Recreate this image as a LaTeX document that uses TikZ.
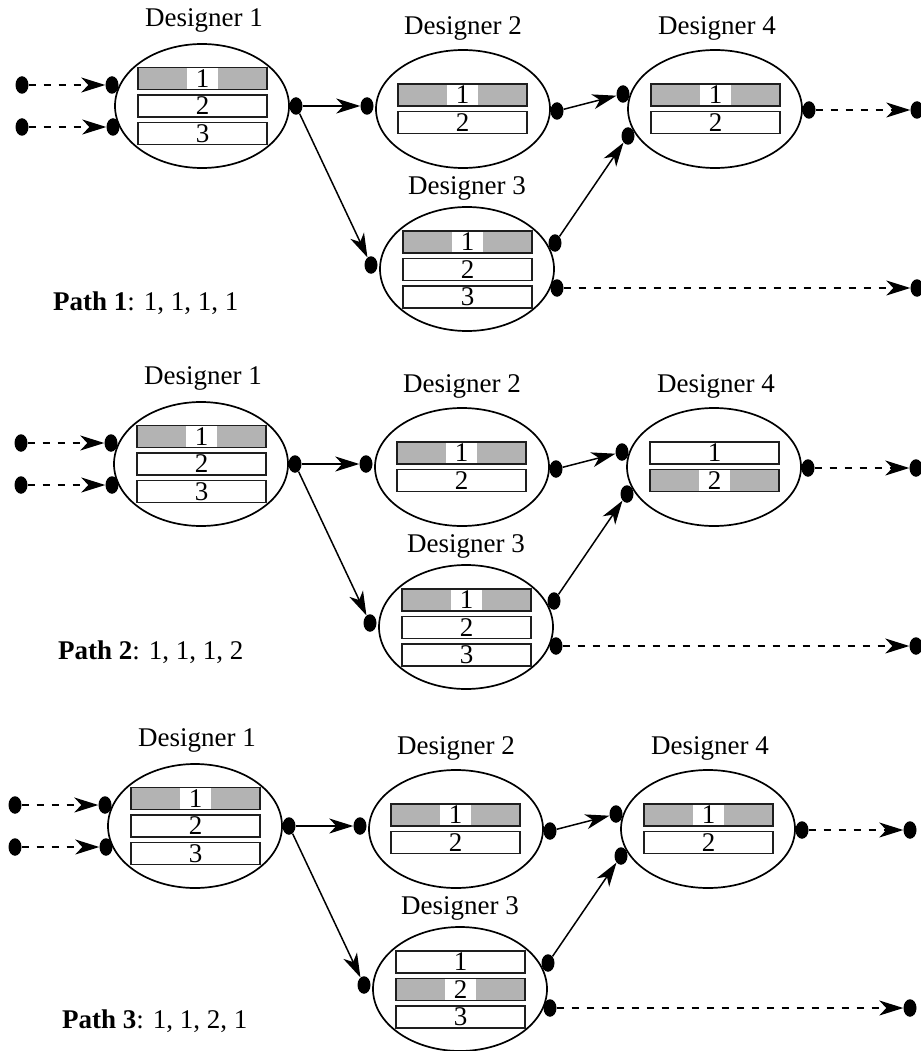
\documentclass[tikz,border=0pt]{standalone}
\usepackage{fontspec}
\setmainfont{Liberation Serif}
\usetikzlibrary{shapes.geometric,arrows.meta}
\definecolor{barfill}{RGB}{179,179,179}
\definecolor{barline}{RGB}{30,30,30}
\begin{document}
\begin{tikzpicture}[x=1pt,y=-1pt,
  every node/.style={font=\fontsize{27}{30}\selectfont},
  des/.style={ellipse, draw, line width=1.7pt, inner sep=0pt, minimum width=174pt, minimum height=118pt},
  dotn/.style={ellipse, fill=black, inner sep=0pt, minimum width=13pt, minimum height=17.5pt},
  plainbar/.style={rectangle, draw=barline, line width=1.8pt, fill=white, inner sep=0pt,
    minimum width=129pt, minimum height=22pt},
  hibar/.style={plainbar, fill=barfill,
    path picture={\fill[white] ([xshift=-15.5pt]path picture bounding box.north) rectangle ([xshift=15.5pt]path picture bounding box.south);}},
  arr/.style={line width=1.5pt, -{Stealth[length=24pt,width=15pt,inset=7pt]}},
  darr/.style={arr, dash pattern=on 7pt off 8pt}
]
\useasboundingbox (0,0) rectangle (920,1051);
\foreach \p/\dx/\dy/\a/\b/\c/\d/\lx/\ly in {1/0/0/1/1/1/1/53/310, 2/-1/358/1/1/1/2/59/301, 3/-7/720/1/1/2/1/69/308}{
\begin{scope}[shift={(\dx,\dy)}]
  % designers
  \node[des, minimum height=124pt] (e1-\p) at (202,106) {};
  \node[des] (e2-\p) at (463,109) {};
  \node[des, minimum height=124pt] (e3-\p) at (467,269) {};
  \node[des] (e4-\p) at (715,109) {};
  \node (t1-\p) at (204,20) {Designer 1};
  \node (t2-\p) at (463,28) {Designer 2};
  \node (t3-\p) at (467,188) {Designer 3};
  \node (t4-\p) at (717,28) {Designer 4};
  % bars
  \foreach \i in {1,2,3}{
    \ifnum\i=\a\relax\def\bs{hibar}\else\def\bs{plainbar}\fi
    \node[\bs] (b1\i-\p) at (202.5,{78.5+27.5*(\i-1)}) {\i};
  }
  \foreach \i in {1,2}{
    \ifnum\i=\b\relax\def\bs{hibar}\else\def\bs{plainbar}\fi
    \node[\bs] (b2\i-\p) at (462.5,{95+27.5*(\i-1)}) {\i};
  }
  \foreach \i in {1,2,3}{
    \ifnum\i=\c\relax\def\bs{hibar}\else\def\bs{plainbar}\fi
    \node[\bs] (b3\i-\p) at (467.5,{242+27.5*(\i-1)}) {\i};
  }
  \foreach \i in {1,2}{
    \ifnum\i=\d\relax\def\bs{hibar}\else\def\bs{plainbar}\fi
    \node[\bs] (b4\i-\p) at (715.5,{95+27.5*(\i-1)}) {\i};
  }
  % ports
  \node[dotn] (s1-\p) at (22,85) {};
  \node[dotn] (s2-\p) at (22,127) {};
  \node[dotn] (i1a-\p) at (112,85) {};
  \node[dotn] (i1b-\p) at (113,127) {};
  \node[dotn] (o1-\p) at (296,106) {};
  \node[dotn] (i2-\p) at (367,106) {};
  \node[dotn] (o2-\p) at (557,111) {};
  \node[dotn] (i3-\p) at (371,265) {};
  \node[dotn] (o3a-\p) at (555,243) {};
  \node[dotn] (o3b-\p) at (557,288) {};
  \node[dotn] (i4a-\p) at (623,94) {};
  \node[dotn] (i4b-\p) at (628,136) {};
  \node[dotn] (o4-\p) at (809,110) {};
  \node[dotn] (f1-\p) at (917,110) {};
  \node[dotn] (f2-\p) at (917,288) {};
  % connectors
  \draw[darr] (s1-\p) -- (i1a-\p);
  \draw[darr] (s2-\p) -- (i1b-\p);
  \draw[arr] (o1-\p) -- (i2-\p);
  \draw[arr] (o1-\p) -- (i3-\p);
  \draw[arr] (o2-\p) -- (i4a-\p);
  \draw[arr] (o3a-\p) -- (i4b-\p);
  \draw[darr] (o4-\p) -- (f1-\p);
  \draw[darr] (o3b-\p) -- (f2-\p);
  % path label
  \node[anchor=base west, inner sep=0pt] (pl-\p) at (\lx,\ly) {\textbf{Path \p}: \a, \b, \c, \d};
\end{scope}
}
\end{tikzpicture}
\end{document}
